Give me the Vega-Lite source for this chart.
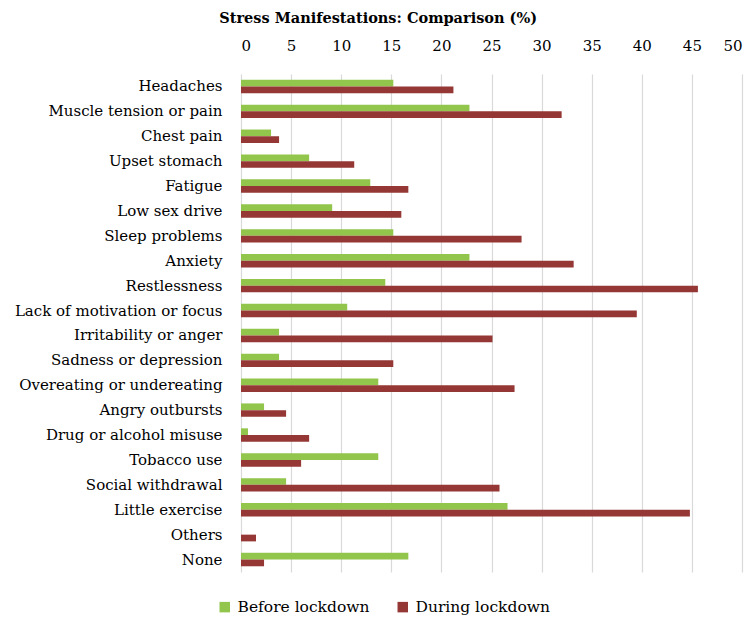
{
  "$schema": "https://vega.github.io/schema/vega-lite/v6.json",
  "width": 501,
  "height": 498,
  "autosize": {"type": "none"},
  "padding": {"left": 241, "top": 74, "right": 12, "bottom": 54},
  "background": "white",
  "title": {
    "text": "Stress Manifestations: Comparison (%)",
    "anchor": "middle",
    "frame": "bounds",
    "font": "DejaVu Serif",
    "fontSize": 14.5,
    "fontWeight": "bold",
    "color": "#000000",
    "offset": 12
  },
  "config": {
    "view": {"stroke": null},
    "font": "DejaVu Serif"
  },
  "data": {
    "values": [
      {"cat": "Headaches", "series": "Before lockdown", "v": 15.2},
      {"cat": "Headaches", "series": "During lockdown", "v": 21.2},
      {"cat": "Muscle tension or pain", "series": "Before lockdown", "v": 22.8},
      {"cat": "Muscle tension or pain", "series": "During lockdown", "v": 32.0},
      {"cat": "Chest pain", "series": "Before lockdown", "v": 3.0},
      {"cat": "Chest pain", "series": "During lockdown", "v": 3.8},
      {"cat": "Upset stomach", "series": "Before lockdown", "v": 6.8},
      {"cat": "Upset stomach", "series": "During lockdown", "v": 11.3},
      {"cat": "Fatigue", "series": "Before lockdown", "v": 12.9},
      {"cat": "Fatigue", "series": "During lockdown", "v": 16.7},
      {"cat": "Low sex drive", "series": "Before lockdown", "v": 9.1},
      {"cat": "Low sex drive", "series": "During lockdown", "v": 16.0},
      {"cat": "Sleep problems", "series": "Before lockdown", "v": 15.2},
      {"cat": "Sleep problems", "series": "During lockdown", "v": 28.0},
      {"cat": "Anxiety", "series": "Before lockdown", "v": 22.8},
      {"cat": "Anxiety", "series": "During lockdown", "v": 33.2},
      {"cat": "Restlessness", "series": "Before lockdown", "v": 14.4},
      {"cat": "Restlessness", "series": "During lockdown", "v": 45.6},
      {"cat": "Lack of motivation or focus", "series": "Before lockdown", "v": 10.6},
      {"cat": "Lack of motivation or focus", "series": "During lockdown", "v": 39.5},
      {"cat": "Irritability or anger", "series": "Before lockdown", "v": 3.8},
      {"cat": "Irritability or anger", "series": "During lockdown", "v": 25.1},
      {"cat": "Sadness or depression", "series": "Before lockdown", "v": 3.8},
      {"cat": "Sadness or depression", "series": "During lockdown", "v": 15.2},
      {"cat": "Overeating or undereating", "series": "Before lockdown", "v": 13.7},
      {"cat": "Overeating or undereating", "series": "During lockdown", "v": 27.3},
      {"cat": "Angry outbursts", "series": "Before lockdown", "v": 2.3},
      {"cat": "Angry outbursts", "series": "During lockdown", "v": 4.5},
      {"cat": "Drug or alcohol misuse", "series": "Before lockdown", "v": 0.7},
      {"cat": "Drug or alcohol misuse", "series": "During lockdown", "v": 6.8},
      {"cat": "Tobacco use", "series": "Before lockdown", "v": 13.7},
      {"cat": "Tobacco use", "series": "During lockdown", "v": 6.0},
      {"cat": "Social withdrawal", "series": "Before lockdown", "v": 4.5},
      {"cat": "Social withdrawal", "series": "During lockdown", "v": 25.8},
      {"cat": "Little exercise", "series": "Before lockdown", "v": 26.6},
      {"cat": "Little exercise", "series": "During lockdown", "v": 44.8},
      {"cat": "Others", "series": "Before lockdown", "v": 0},
      {"cat": "Others", "series": "During lockdown", "v": 1.5},
      {"cat": "None", "series": "Before lockdown", "v": 16.7},
      {"cat": "None", "series": "During lockdown", "v": 2.3}
    ]
  },
  "mark": {"type": "bar"},
  "encoding": {
    "y": {
      "field": "cat",
      "type": "nominal",
      "sort": null,
      "scale": {"paddingInner": 0.46, "paddingOuter": 0.23},
      "axis": {
        "title": null,
        "domain": false,
        "ticks": false,
        "labelFont": "DejaVu Serif",
        "labelFontSize": 15,
        "labelColor": "#000000",
        "labelPadding": 19,
        "labelLimit": 300
      }
    },
    "yOffset": {"field": "series", "type": "nominal", "sort": ["Before lockdown", "During lockdown"]},
    "x": {
      "field": "v",
      "type": "quantitative",
      "scale": {"domain": [0, 50], "nice": false},
      "axis": {
        "orient": "top",
        "title": null,
        "values": [0, 5, 10, 15, 20, 25, 30, 35, 40, 45, 50],
        "domain": false,
        "ticks": false,
        "grid": true,
        "gridColor": "#d9d9d9",
        "gridWidth": 1.2,
        "labelFont": "DejaVu Serif",
        "labelFontSize": 15,
        "labelColor": "#000000",
        "labelPadding": 21
      }
    },
    "color": {
      "field": "series",
      "type": "nominal",
      "scale": {"domain": ["Before lockdown", "During lockdown"], "range": ["#92c54b", "#953735"]},
      "legend": {
        "title": null,
        "orient": "none",
        "direction": "horizontal",
        "legendX": -24,
        "legendY": 525,
        "symbolType": "square",
        "symbolSize": 110,
        "symbolStrokeWidth": 0,
        "labelFont": "DejaVu Serif",
        "labelFontSize": 15.5,
        "labelColor": "#000000",
        "labelOffset": 5,
        "columnPadding": 25
      }
    }
  }
}
